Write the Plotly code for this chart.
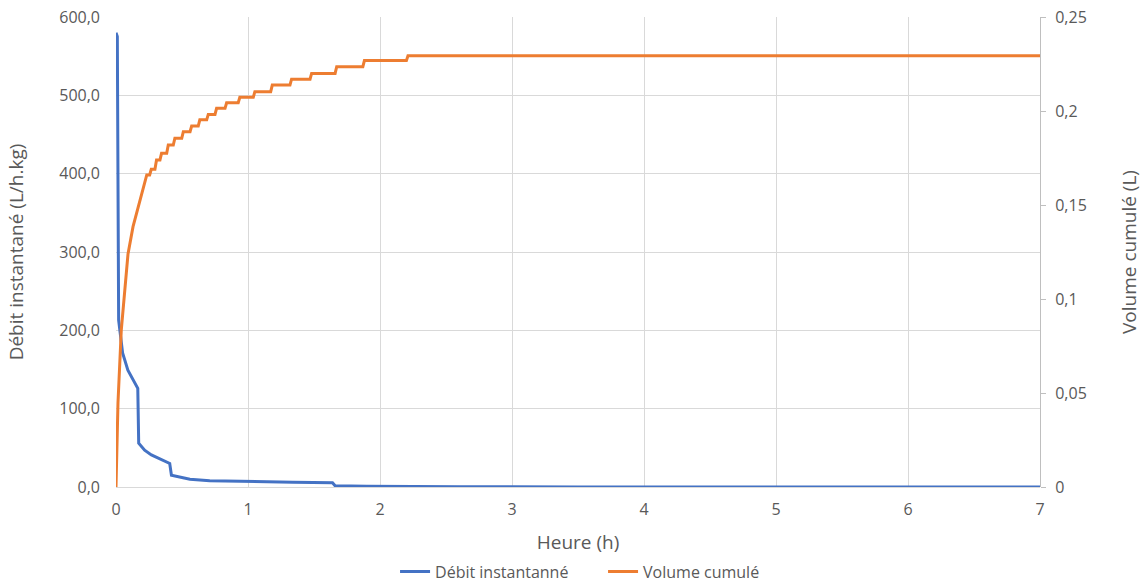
import plotly.graph_objects as go

# Débit instantané (L/h.kg)
debit_h = [0, 0.01, 0.02, 0.05, 0.09, 0.13, 0.165, 0.172, 0.217, 0.268, 0.343, 0.407, 0.42, 0.47, 0.56, 0.71, 0.99, 1.34, 1.64, 1.66, 1.9, 2.2, 2.6, 3.5, 7.0]
debit_v = [580, 575, 213, 171, 149, 137, 126, 56, 47, 41, 34.5, 30, 15, 13, 10, 8, 6.8, 6, 5.5, 1.5, 1.0, 0.5, 0.3, 0.1, 0.05]

# Volume cumulé (L) – smooth early rise
vol_h_smooth = [0, 0.015, 0.04, 0.066, 0.091, 0.129, 0.167, 0.217, 0.233]
vol_v_smooth = [0, 0.0447, 0.0835, 0.1065, 0.124, 0.1385, 0.149, 0.1615, 0.166]
# Volume cumulé (L) – stepwise part: time of each step and level reached
vol_step_h = [0.255, 0.295, 0.333, 0.384, 0.434, 0.498, 0.561, 0.623, 0.687, 0.75, 0.826, 0.926,
              1.04, 1.172, 1.318, 1.47, 1.66, 1.87, 2.20]
vol_step_v = [0.1690, 0.174, 0.1775, 0.1819, 0.1855, 0.189, 0.192, 0.1953, 0.1982, 0.2014, 0.2044, 0.2073,
              0.2103, 0.2138, 0.2169, 0.2200, 0.2236, 0.2268, 0.2294]
vol_end_h = 7.0

x_ticks = [0, 1, 2, 3, 4, 5, 6, 7]
y1_ticks = [0, 100, 200, 300, 400, 500, 600]
y2_ticks = [0, 0.05, 0.1, 0.15, 0.2, 0.25]

# build the staircase series from the read values
vol_x = list(vol_h_smooth)
vol_y = list(vol_v_smooth)
for h, v in zip(vol_step_h, vol_step_v):
    vol_x += [h, h + 0.012]
    vol_y += [vol_y[-1], v]
vol_x.append(vol_end_h)
vol_y.append(vol_y[-1])

FONT = "Open Sans"
GRAY = "#595959"
GRID = "#d9d9d9"

fig = go.Figure()
fig.add_trace(go.Scatter(x=debit_h, y=debit_v, name="Débit instantanné", mode="lines",
                         line=dict(color="#4472C4", width=3)))
fig.add_trace(go.Scatter(x=vol_x, y=vol_y, name="Volume cumulé", mode="lines", yaxis="y2",
                         line=dict(color="#ED7D31", width=3)))

fig.update_layout(
    width=1147, height=583,
    paper_bgcolor="white", plot_bgcolor="white",
    separators=", ",
    font=dict(family=FONT, size=16, color=GRAY),
    margin=dict(l=116, r=107, t=17, b=96, autoexpand=False),
    showlegend=True,
    legend=dict(orientation="h", x=0.302, xanchor="left", y=-0.18, yanchor="middle",
                entrywidth=163, entrywidthmode="pixels",
                font=dict(family=FONT, size=16, color=GRAY)),
    xaxis=dict(range=[0, 7], tickvals=x_ticks, showgrid=True, gridcolor=GRID, gridwidth=1,
               zeroline=False, showline=False, ticks="", ticklabelstandoff=11,
               title=dict(text="Heure (h)", standoff=16),
               tickfont=dict(size=16, color=GRAY)),
    yaxis=dict(range=[0, 600], tickvals=y1_ticks, tickformat=".1f", showgrid=True, gridcolor=GRID,
               gridwidth=1, zeroline=True, zerolinecolor=GRID, zerolinewidth=1, showline=False, ticks="",
               ticklabelstandoff=15,
               title=dict(text="Débit instantané (L/h.kg)", standoff=30), tickfont=dict(size=16, color=GRAY)),
    yaxis2=dict(range=[0, 0.25], tickvals=y2_ticks, overlaying="y", side="right", showgrid=False,
                zeroline=False, showline=True, linecolor="#bfbfbf", linewidth=1, ticks="outside",
                ticklen=5, tickcolor="#bfbfbf", ticklabelstandoff=6,
                title=dict(text="Volume cumulé (L)", standoff=36),
                tickfont=dict(size=16, color=GRAY)),
)

fig.write_html("out.html", config={"displayModeBar": False},
               post_script="document.body.style.margin='0';document.body.style.overflow='hidden';")
